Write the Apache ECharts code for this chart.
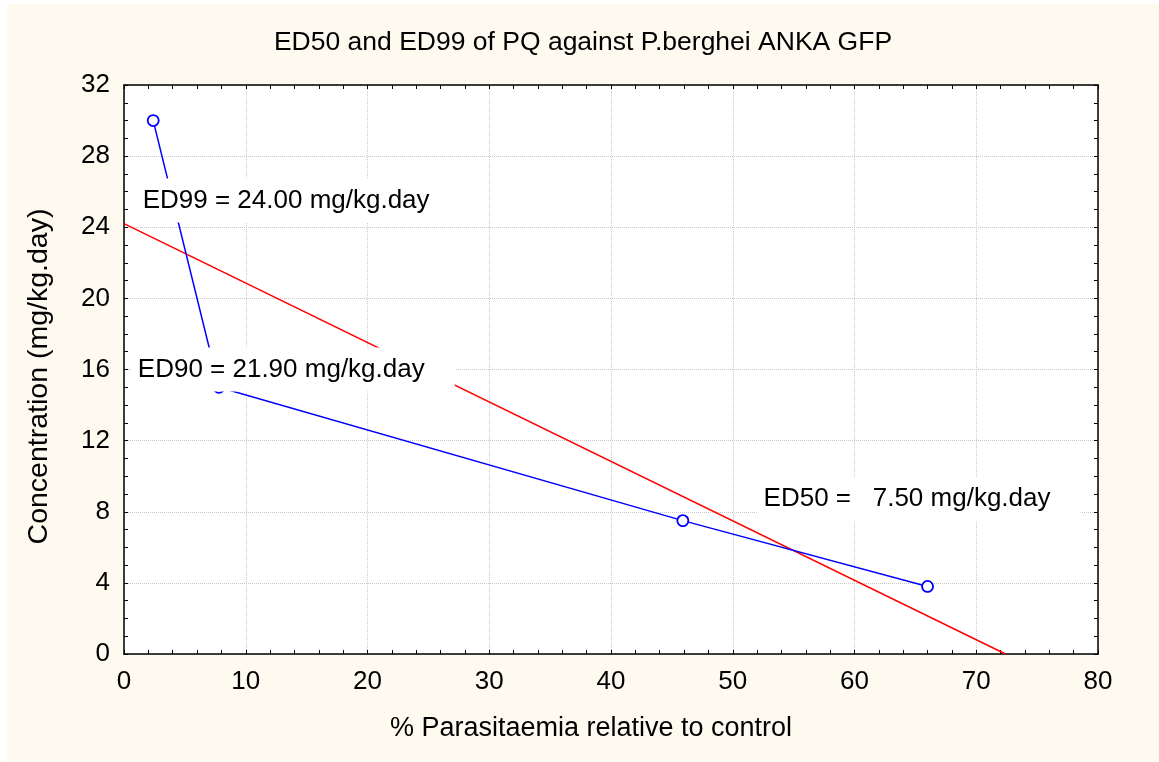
<!doctype html>
<html>
<head>
<meta charset="UTF-8">
<title>ED50 and ED99 of PQ</title>
<script src="https://cdn.jsdelivr.net/npm/echarts@6/dist/echarts.min.js"></script>
<style>
  html, body { margin: 0; padding: 0; background: #fff; }
  #main { position: absolute; left: 7px; top: 4px; width: 1152px; height: 758px; background: #fefaf0; }
</style>
</head>
<body>
<div id="main"></div>
<script>
// measured points (blue curve)
var pointX = [2.4, 7.8, 45.9, 66.0];
var pointY = [30.0, 15.0, 7.5, 3.8];
// fitted regression line (red)
var fitX = [0, 72.4];
var fitY = [24.2, 0];
// annotations
var noteText = ['ED99 = 24.00 mg/kg.day', 'ED90 = 21.90 mg/kg.day', 'ED50 =   7.50 mg/kg.day'];
var noteX = [1.0, 0.6, 52.0];
var noteY = [25.5, 16.0, 8.7];
// axes
var xTicks = [0, 80, 10];
var yTicks = [0, 32, 4];

var font = 'Liberation Sans, Arial, sans-serif';
var chart = echarts.init(document.getElementById('main'));

function zip(a, b) {
  var out = [];
  for (var i = 0; i < a.length; i++) out.push([a[i], b[i]]);
  return out;
}

var baseAxis = {
  type: 'value',
  axisLine: { show: true, onZero: false, lineStyle: { color: '#000', width: 1.5 } },
  axisTick: { show: true, inside: true, length: 4, lineStyle: { color: '#000', width: 1 } },
  minorTick: { show: true, length: 4, lineStyle: { color: '#000', width: 1 } },
  splitLine: { show: false }
};

function makeAxis(t, extra) {
  return Object.assign({}, baseAxis, { min: t[0], max: t[1], interval: t[2] }, extra);
}

var notes = [];
for (var i = 0; i < noteText.length; i++) {
  notes.push({ value: [noteX[i], noteY[i]], label: { formatter: noteText[i] } });
}

var option = {
  animation: false,
  title: {
    text: 'ED50 and ED99 of PQ against P.berghei ANKA GFP',
    left: 'center',
    top: 20,
    textStyle: { fontFamily: font, fontSize: 26.5, fontWeight: 'normal', color: '#000' }
  },
  grid: { left: 117, right: 61, top: 81, bottom: 108, show: true, backgroundColor: '#fff', borderWidth: 0 },
  xAxis: [
    makeAxis(xTicks, {
      position: 'bottom',
      name: '% Parasitaemia relative to control',
      nameLocation: 'middle',
      nameGap: 61,
      nameTextStyle: { fontFamily: font, fontSize: 27, color: '#000', padding: [0, 40, 0, 0] },
      minorTick: { show: true, splitNumber: 5, length: 4, lineStyle: { color: '#000' } },
      axisLabel: { fontFamily: font, fontSize: 26, color: '#000', margin: 15 },
      splitLine: { show: true, lineStyle: { color: '#c8c8c8', type: 'dotted', width: 1 } }
    }),
    makeAxis(xTicks, {
      position: 'top',
      minorTick: { show: true, splitNumber: 5, length: 4, lineStyle: { color: '#000' } },
      axisLabel: { show: false }
    })
  ],
  yAxis: [
    makeAxis(yTicks, {
      position: 'left',
      name: 'Concentration (mg/kg.day)',
      nameLocation: 'middle',
      nameGap: 70,
      nameTextStyle: { fontFamily: font, fontSize: 28.5, color: '#000', padding: [0, 14, 0, 0] },
      minorTick: { show: true, splitNumber: 4, length: 4, lineStyle: { color: '#000' } },
      axisLabel: { fontFamily: font, fontSize: 26, color: '#000', margin: 14 },
      splitLine: { show: true, lineStyle: { color: '#c8c8c8', type: 'dotted', width: 1 } }
    }),
    makeAxis(yTicks, {
      position: 'right',
      minorTick: { show: true, splitNumber: 4, length: 4, lineStyle: { color: '#000' } },
      axisLabel: { show: false }
    })
  ],
  series: [
    {
      type: 'line',
      data: zip(fitX, fitY),
      showSymbol: false,
      symbol: 'none',
      lineStyle: { color: '#ff0000', width: 1.5 },
      z: 2
    },
    {
      type: 'line',
      data: zip(pointX, pointY),
      symbol: 'circle',
      symbolSize: 11,
      itemStyle: { color: '#fff', borderColor: '#0000ff', borderWidth: 1.8 },
      lineStyle: { color: '#0000ff', width: 1.5 },
      z: 3
    },
    {
      type: 'scatter',
      data: notes,
      symbolSize: 1,
      itemStyle: { opacity: 1, color: 'rgba(0,0,0,0)' },
      z: 10,
      label: {
        show: true,
        position: 'right',
        distance: 0,
        opacity: 1,
        fontFamily: font,
        fontSize: 26,
        color: '#000',
        backgroundColor: '#fff',
        padding: [9, 30, 9, 6]
      },
      emphasis: { disabled: true }
    }
  ]
};

chart.setOption(option);
</script>
</body>
</html>
